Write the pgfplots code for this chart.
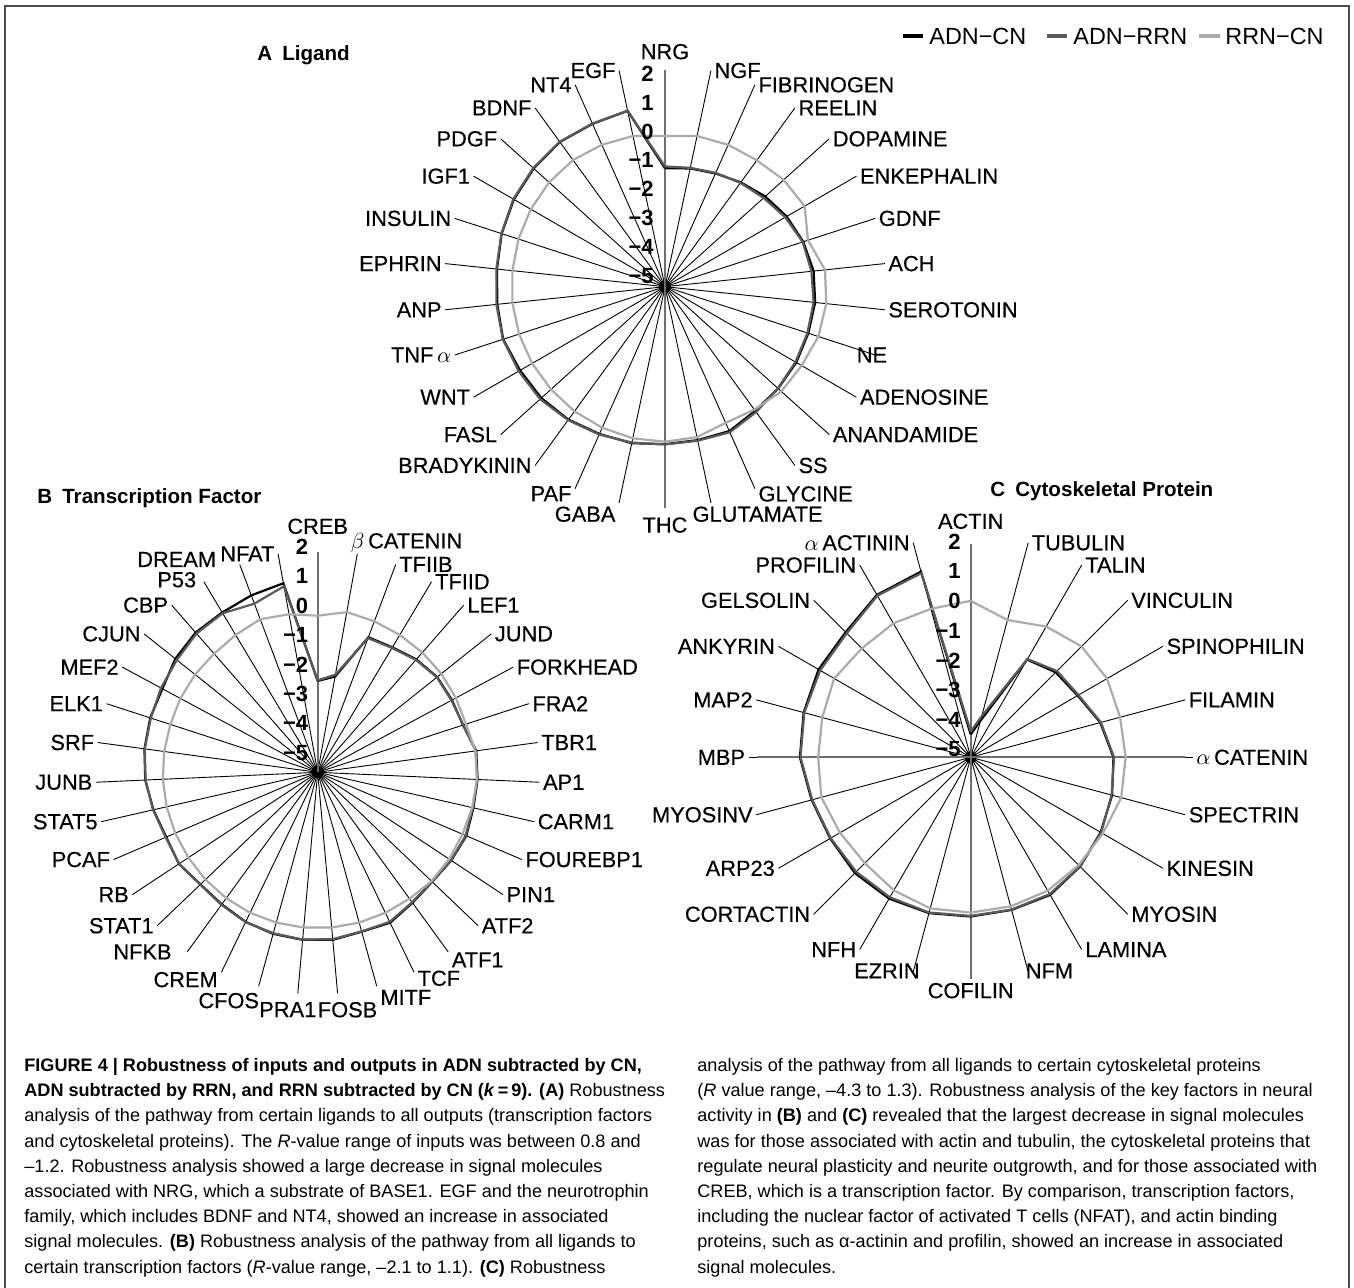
\documentclass[border=0pt]{standalone}
\usepackage{pgfplots}
\pgfplotsset{compat=1.18}
\usepackage{pgfplotstable}
\usepackage{fontspec}
\setmainfont{Liberation Sans}
\newfontfamily\lblfamily[FakeBold=0.4]{Liberation Sans}
\definecolor{cA}{HTML}{000000}
\definecolor{cB}{HTML}{5A5A5A}
\definecolor{cC}{HTML}{ABABAB}
\definecolor{axg}{HTML}{6E6E6E}
\newcommand{\lbl}{\lblfamily\fontsize{10.9}{12}\selectfont}
\newcommand{\tck}{\fontsize{11}{12}\selectfont\bfseries}
\newcommand{\capf}{\fontsize{9.05}{11}\selectfont}

% i  ADN-CN  ADN-RRN  RRN-CN
\pgfplotstableread{
i a b c
0 -1.18 -1.12 -0.14
1 -1.10 -1.08 -0.03
2 -1.00 -0.98 0.01
3 -0.84 -0.86 0.04
4 -0.65 -0.72 0.15
5 -0.47 -0.52 0.20
6 -0.31 -0.33 -0.15
7 -0.18 -0.25 0.19
8 -0.13 -0.18 0.23
9 -0.14 -0.17 0.20
10 -0.11 -0.14 0.09
11 -0.09 -0.10 0.05
12 -0.05 0.00 -0.10
13 0.10 0.14 -0.19
14 0.06 0.08 -0.04
15 0.08 0.09 0.00
16 0.16 0.14 0.00
17 0.20 0.22 -0.02
18 0.30 0.32 -0.03
19 0.37 0.42 -0.05
20 0.40 0.45 -0.05
21 0.49 0.50 -0.05
22 0.44 0.47 -0.05
23 0.45 0.47 -0.05
24 0.54 0.55 -0.03
25 0.63 0.65 0.00
26 0.70 0.72 0.03
27 0.77 0.78 0.05
28 0.75 0.76 0.01
29 0.80 0.80 -0.03
30 -1.18 -1.12 -0.14
}\dataA

\pgfplotstableread{
i a b c
0 -2.10 -2.08 -0.03
1 -1.91 -1.85 0.17
2 -0.42 -0.45 0.12
3 -0.38 -0.40 0.08
4 -0.24 -0.26 0.05
5 -0.15 -0.16 0.02
6 -0.16 -0.18 -0.02
7 -0.15 -0.14 -0.05
8 0.08 0.06 0.05
9 0.08 0.07 0.06
10 0.07 0.05 0.03
11 0.13 0.11 0.00
12 0.08 0.07 0.00
13 0.03 0.02 0.00
14 0.12 0.10 -0.04
15 0.30 0.27 -0.05
16 0.25 0.24 -0.05
17 0.34 0.32 -0.05
18 0.34 0.33 -0.05
19 0.32 0.30 -0.05
20 0.27 0.28 -0.05
21 0.18 0.20 -0.06
22 0.15 0.16 -0.07
23 0.28 0.27 -0.08
24 0.23 0.25 -0.08
25 0.35 0.36 -0.08
26 0.48 0.47 -0.08
27 0.55 0.54 -0.08
28 0.59 0.57 -0.08
29 0.60 0.65 -0.05
30 0.78 0.72 -0.02
31 0.89 0.85 0.00
32 0.91 0.88 0.08
33 1.00 0.72 0.19
34 1.10 1.00 0.10
35 -2.10 -2.08 -0.03
}\dataB

\pgfplotstableread{
i a b c
0 -4.25 -4.15 0.13
1 -3.75 -3.60 -0.34
2 -1.30 -1.28 -0.05
3 -1.06 -1.00 0.14
4 -0.95 -0.92 0.16
5 -0.60 -0.58 0.07
6 -0.32 -0.30 0.08
7 -0.20 -0.22 0.11
8 -0.08 -0.06 0.00
9 0.07 0.06 0.00
10 0.21 0.18 0.05
11 0.18 0.17 0.06
12 0.22 0.20 0.09
13 0.29 0.27 0.13
14 0.35 0.30 0.04
15 0.37 0.31 -0.09
16 0.32 0.30 -0.05
17 0.40 0.38 0.07
18 0.60 0.58 0.00
19 0.67 0.65 0.04
20 0.76 0.70 0.17
21 0.80 0.75 0.05
22 1.15 1.12 0.07
23 1.30 1.25 0.04
24 -4.25 -4.15 0.13
}\dataC

% spokes and category labels:
% #1 cx, #2 cy, #3 N, #4 leader radius, #5 height of first label above centre,
% #6 labels as text/xshift/yshift (pt)
\newcommand{\radar}[6]{%
  \foreach \lab/\dx/\dy [count=\k from 0] in {#6} {
    \pgfmathsetmacro\th{\k*360/#3}
    \ifnum\k=0
      \node[inner sep=0pt, font=\lbl, xshift=\dx pt, yshift=\dy pt] at (#1,{#2-#5}) {\lab};
    \else
      \ifdim\th pt<155pt \def\anc{west}\else
       \ifdim\th pt<174pt \def\anc{north west}\else
        \ifdim\th pt<186pt \def\anc{north}\else
         \ifdim\th pt<210pt \def\anc{north east}\else
          \def\anc{east}\fi\fi\fi\fi
      \draw[line width=0.45pt] (#1,#2) -- ++(\th-90:#4)
        node[anchor=\anc, inner sep=1.6pt, font=\lbl, xshift=\dx pt, yshift=\dy pt] {\lab};
    \fi
  }%
  \fill (#1,#2) circle (6);
}

\newcommand{\series}[2]{% #1 table, #2 N
  \addplot[cA, line width=1.1pt] table[x expr={(\thisrow{a}+5)*sin(\thisrow{i}*360/#2)}, y expr={(\thisrow{a}+5)*cos(\thisrow{i}*360/#2)}]{#1};
  \addplot[cB, line width=1.1pt] table[x expr={(\thisrow{b}+5)*sin(\thisrow{i}*360/#2)}, y expr={(\thisrow{b}+5)*cos(\thisrow{i}*360/#2)}]{#1};
  \addplot[cC, line width=1.1pt] table[x expr={(\thisrow{c}+5)*sin(\thisrow{i}*360/#2)}, y expr={(\thisrow{c}+5)*cos(\thisrow{i}*360/#2)}]{#1};
}

\begin{document}
\begin{tikzpicture}
\begin{scope}[x=0.5pt,y=-0.5pt]
\path[use as bounding box] (0,0) rectangle (1354,1288);
\draw[line width=0.8pt, black!70] (5,1290) -- (5,6) -- (1349,6) -- (1349,1290);

% Chart A spokes
\radar{665}{286.7}{30}{221}{235}{NRG/0/0,NGF/0/0,FIBRINOGEN/0/0,REELIN/0/0,DOPAMINE/0/0,ENKEPHALIN/0/0,GDNF/0/0,ACH/0/0,SEROTONIN/0/0,NE/-11/0,ADENOSINE/0/0,ANANDAMIDE/0/0,SS/0/0,GLYCINE/0/3,GLUTAMATE/-11/0,THC/0/-3,GABA/0/0,PAF/0/3,BRADYKININ/0/0,FASL/0/0,WNT/0/0,{TNF\,$\alpha$}/0/0,ANP/0/0,EPHRIN/0/0,INSULIN/0/0,IGF1/0/0,PDGF/0/0,BDNF/0/0,NT4/0/0,EGF/0/0}
\draw[axg, line width=0.9pt] (665,69.7) -- (665,507.7);

% Chart B spokes
\radar{317.7}{772.3}{35}{222}{246}{CREB/0/0,{$\beta$\,CATENIN}/-5/5.5,TFIIB/0/0,TFIID/0/0,LEF1/0/0,JUND/0/0,FORKHEAD/0/0,FRA2/0/0,TBR1/0/0,AP1/0/0,CARM1/0/0,FOUREBP1/0/0,PIN1/0/0,ATF2/0/0,ATF1/0/-4,TCF/0/-3,MITF/0/0,FOSB/5/-2.5,PRA1/-5/-2.5,CFOS/2/-1.5,CREM/0/2,NFKB/-6/0,STAT1/0/0,RB/0/0,PCAF/0/0,STAT5/0/0,JUNB/0/0,SRF/0/0,ELK1/0/0,MEF2/0/0,CJUN/0/0,CBP/0/0,P53/-2/1,DREAM/-10/2.5,NFAT/0/0}
\draw[axg, line width=0.9pt] (317.7,551.8) -- (317.7,772.3);

% Chart C spokes
\radar{970.7}{757.3}{24}{222}{236}{ACTIN/0/0,TUBULIN/0/0,TALIN/0/0,VINCULIN/0/0,SPINOPHILIN/0/0,FILAMIN/0/0,{$\alpha$\,CATENIN}/0/0,SPECTRIN/0/0,KINESIN/0/0,MYOSIN/0/0,LAMINA/0/0,NFM/-3/6,COFILIN/0/0,EZRIN/5/6,NFH/0/0,CORTACTIN/0/0,ARP23/0/0,MYOSINV/0/0,MBP/0/0,MAP2/0/0,ANKYRIN/0/0,GELSOLIN/0/0,PROFILIN/0/0,{$\alpha$\,ACTININ}/0/0}
\draw[axg, line width=0.9pt] (970.7,543.8) -- (970.7,979.3);
\draw[axg, line width=0.9pt] (756.7,757.3) -- (1185,757.3);
\end{scope}

% data
\begin{axis}[at={(332.5pt,-143.35pt)}, anchor=center, x=15.5pt, y=15.5pt,
  xmin=-7, xmax=7, ymin=-7, ymax=7, axis lines=none, ticks=none, clip=false, enlargelimits=false]
\series{\dataA}{30}
\end{axis}
\begin{axis}[at={(158.85pt,-386.15pt)}, anchor=center, x=15.75pt, y=15.75pt,
  xmin=-7, xmax=7, ymin=-7, ymax=7, axis lines=none, ticks=none, clip=false, enlargelimits=false]
\series{\dataB}{35}
\end{axis}
\begin{axis}[at={(485.35pt,-378.65pt)}, anchor=center, x=15.25pt, y=15.25pt,
  xmin=-7, xmax=7, ymin=-7, ymax=7, axis lines=none, ticks=none, clip=false, enlargelimits=false]
\series{\dataC}{24}
\end{axis}

\begin{scope}[x=0.5pt,y=-0.5pt]
% tick labels
\foreach \t [count=\k from 0] in {2,1,0,−1,−2,−3,−4,−5}
  \node[anchor=east, inner sep=0pt, font=\tck] at (654,{74+\k*28.8}) {\t};
\foreach \t [count=\k from 0] in {2,1,0,−1,−2,−3,−4,−5}
  \node[anchor=east, inner sep=0pt, font=\tck] at (308.5,{547+\k*29.4}) {\t};
\foreach \t [count=\k from 0] in {2,1,0,−1,−2,−3,−4,−5}
  \node[anchor=east, inner sep=0pt, font=\tck] at (961,{541.7+\k*29.66}) {\t};

% titles
\node[anchor=west, inner sep=0pt, font=\fontsize{10.3}{12}\selectfont\bfseries] at (257,55) {A\hspace{5pt}Ligand};
\node[anchor=west, inner sep=0pt, font=\fontsize{10.3}{12}\selectfont\bfseries] at (37,498) {B\hspace{5pt}Transcription Factor};
\node[anchor=west, inner sep=0pt, font=\fontsize{10.3}{12}\selectfont\bfseries] at (990,491) {C\hspace{5pt}Cytoskeletal Protein};

% legend
\draw[cA, line width=2pt] (903,36) -- (923,36);
\node[anchor=west, inner sep=0pt, font=\fontsize{11.7}{13}\selectfont] at (929,36) {ADN−CN};
\draw[cB, line width=2pt] (1047,36) -- (1067,36);
\node[anchor=west, inner sep=0pt, font=\fontsize{11.7}{13}\selectfont] at (1073,36) {ADN−RRN};
\draw[cC, line width=2pt] (1199,36) -- (1220,36);
\node[anchor=west, inner sep=0pt, font=\fontsize{11.7}{13}\selectfont] at (1225,36) {RRN−CN};

% caption, left column
\foreach \ln [count=\k from 0] in {
 {\textbf{FIGURE 4 | Robustness of inputs and outputs in ADN subtracted by CN,}},
 {\textbf{ADN subtracted by RRN, and RRN subtracted by CN (\textit{k}\,=\,9). (A)} Robustness},
 {analysis of the pathway from certain ligands to all outputs (transcription factors},
 {and cytoskeletal proteins). The \textit{R}-value range of inputs was between 0.8 and},
 {–1.2. Robustness analysis showed a large decrease in signal molecules},
 {associated with NRG, which a substrate of BASE1. EGF and the neurotrophin},
 {family, which includes BDNF and NT4, showed an increase in associated},
 {signal molecules. \textbf{(B)} Robustness analysis of the pathway from all ligands to},
 {certain transcription factors (\textit{R}-value range, –2.1 to 1.1). \textbf{(C)} Robustness}}
 \node[anchor=west, inner sep=0pt, font=\capf] at (24,{1067+\k*25.2}) {\strut\ln};

% caption, right column
\foreach \ln [count=\k from 0] in {
 {analysis of the pathway from all ligands to certain cytoskeletal proteins},
 {(\textit{R} value range, –4.3 to 1.3). Robustness analysis of the key factors in neural},
 {activity in \textbf{(B)} and \textbf{(C)} revealed that the largest decrease in signal molecules},
 {was for those associated with actin and tubulin, the cytoskeletal proteins that},
 {regulate neural plasticity and neurite outgrowth, and for those associated with},
 {CREB, which is a transcription factor. By comparison, transcription factors,},
 {including the nuclear factor of activated T cells (NFAT), and actin binding},
 {proteins, such as α-actinin and profilin, showed an increase in associated},
 {signal molecules.}}
 \node[anchor=west, inner sep=0pt, font=\capf] at (697,{1067+\k*25.2}) {\strut\ln};
\end{scope}
\end{tikzpicture}
\end{document}
